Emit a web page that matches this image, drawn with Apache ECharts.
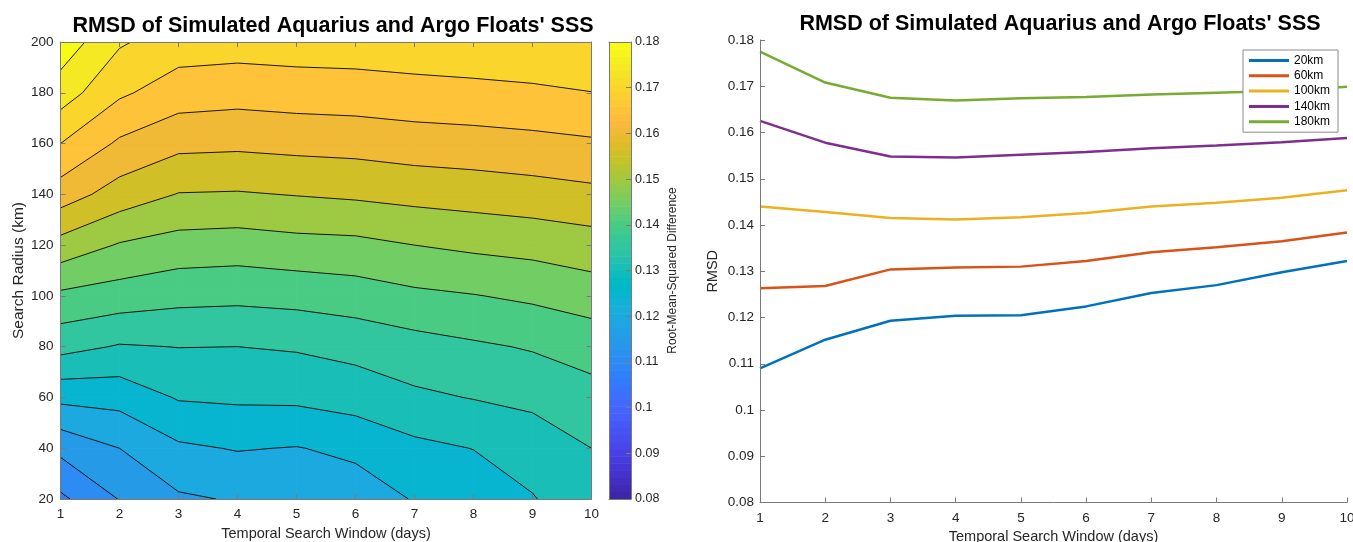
<!DOCTYPE html>
<html>
<head>
<meta charset="utf-8">
<script src="https://cdn.jsdelivr.net/npm/echarts@6/dist/echarts.min.js"></script>
<style>
html,body{margin:0;padding:0;background:#fff;}
#chart{width:1353px;height:542px;}
</style>
</head>
<body>
<div id="chart"></div>
<script>
// ---------------- data ----------------
const days = [1, 2, 3, 4, 5, 6, 7, 8, 9, 10];
const radii = [20, 40, 60, 80, 100, 120, 140, 160, 180, 200];

// RMSD for each search radius (rows) across temporal windows 1..10 days
const rmsd20  = [0.1090, 0.1152, 0.1193, 0.1204, 0.1205, 0.1224, 0.1253, 0.1270, 0.1298, 0.1322];
const rmsd40  = [0.1163, 0.1200, 0.1242, 0.1253, 0.1248, 0.1261, 0.1288, 0.1301, 0.1315, 0.1350];
const rmsd60  = [0.1263, 0.1268, 0.1304, 0.1308, 0.1310, 0.1322, 0.1341, 0.1352, 0.1365, 0.1384];
const rmsd80  = [0.1367, 0.1346, 0.1351, 0.1350, 0.1355, 0.1366, 0.1381, 0.1393, 0.1404, 0.1419];
const rmsd100 = [0.1440, 0.1428, 0.1415, 0.1412, 0.1417, 0.1426, 0.1440, 0.1448, 0.1459, 0.1475];
const rmsd120 = [0.1532, 0.1496, 0.1480, 0.1476, 0.1484, 0.1487, 0.1500, 0.1510, 0.1517, 0.1528];
const rmsd140 = [0.1625, 0.1578, 0.1548, 0.1546, 0.1552, 0.1558, 0.1566, 0.1572, 0.1579, 0.1588];
const rmsd160 = [0.1700, 0.1642, 0.1613, 0.1610, 0.1615, 0.1618, 0.1626, 0.1630, 0.1636, 0.1643];
const rmsd180 = [0.1775, 0.1708, 0.1675, 0.1669, 0.1674, 0.1677, 0.1682, 0.1686, 0.1690, 0.1699];
const rmsd200 = [0.1831, 0.1756, 0.1725, 0.1722, 0.1725, 0.1726, 0.1731, 0.1735, 0.1744, 0.1748];
const rmsdGrid = [rmsd20, rmsd40, rmsd60, rmsd80, rmsd100, rmsd120, rmsd140, rmsd160, rmsd180, rmsd200];

// right panel lines
const lineNames = ['20km', '60km', '100km', '140km', '180km'];
const lineValues = [rmsd20, rmsd60, rmsd100, rmsd140, rmsd180];

// contour levels
const contourLevels = [0.080, 0.085, 0.090, 0.095, 0.100, 0.105, 0.110, 0.115, 0.120, 0.125,
                       0.130, 0.135, 0.140, 0.145, 0.150, 0.155, 0.160, 0.165, 0.170, 0.175, 0.180];
const colorLimits = [0.08, 0.18];

// ---------------- styles ----------------
const parula = [
[0.2422,0.1504,0.6603],[0.2504,0.1650,0.7076],[0.2578,0.1818,0.7511],[0.2647,0.1978,0.7952],
[0.2706,0.2147,0.8364],[0.2751,0.2342,0.8710],[0.2783,0.2559,0.8991],[0.2803,0.2782,0.9221],
[0.2813,0.3006,0.9414],[0.2810,0.3228,0.9579],[0.2795,0.3447,0.9717],[0.2760,0.3667,0.9829],
[0.2699,0.3892,0.9906],[0.2602,0.4123,0.9952],[0.2440,0.4358,0.9988],[0.2206,0.4603,0.9973],
[0.1963,0.4847,0.9892],[0.1834,0.5074,0.9798],[0.1786,0.5289,0.9682],[0.1764,0.5499,0.9520],
[0.1687,0.5703,0.9359],[0.1540,0.5902,0.9218],[0.1460,0.6091,0.9079],[0.1380,0.6276,0.8973],
[0.1248,0.6459,0.8883],[0.1113,0.6635,0.8763],[0.0952,0.6798,0.8598],[0.0689,0.6948,0.8394],
[0.0297,0.7082,0.8163],[0.0036,0.7203,0.7917],[0.0067,0.7312,0.7660],[0.0433,0.7411,0.7394],
[0.0964,0.7500,0.7120],[0.1408,0.7584,0.6842],[0.1717,0.7670,0.6554],[0.1938,0.7758,0.6251],
[0.2161,0.7843,0.5923],[0.2470,0.7918,0.5567],[0.2906,0.7973,0.5188],[0.3406,0.8008,0.4789],
[0.3909,0.8029,0.4354],[0.4456,0.8024,0.3909],[0.5044,0.7993,0.3480],[0.5616,0.7942,0.3045],
[0.6174,0.7876,0.2612],[0.6720,0.7793,0.2227],[0.7242,0.7698,0.1910],[0.7738,0.7598,0.1646],
[0.8203,0.7498,0.1535],[0.8634,0.7406,0.1596],[0.9035,0.7330,0.1774],[0.9393,0.7288,0.2100],
[0.9728,0.7298,0.2394],[0.9956,0.7434,0.2371],[0.9970,0.7659,0.2199],[0.9952,0.7893,0.2028],
[0.9892,0.8136,0.1885],[0.9786,0.8386,0.1766],[0.9676,0.8639,0.1643],[0.9610,0.8890,0.1537],
[0.9597,0.9135,0.1423],[0.9628,0.9373,0.1265],[0.9691,0.9606,0.1064],[0.9769,0.9839,0.0805]
];
function rgb(c){return 'rgb('+Math.round(c[0]*255)+','+Math.round(c[1]*255)+','+Math.round(c[2]*255)+')';}
function colorFor(v){
  const n = parula.length;
  let idx = Math.floor((v - colorLimits[0]) / (colorLimits[1] - colorLimits[0]) * n + 1e-9);
  idx = Math.max(0, Math.min(n - 1, idx));
  return rgb(parula[idx]);
}
const lineColors = ['#0072BD', '#D95319', '#EDB120', '#7E2F8E', '#77AC30'];
const FONT = 'Liberation Sans, Arial, Helvetica, sans-serif';
const AXIS_COLOR = '#7a7a7a';
const TEXT_COLOR = '#262626';

// ---------------- contour helpers ----------------
function cellCorners(i, j){
  return [[i, j], [i + 1, j], [i + 1, j + 1], [i, j + 1]].map(function (p) {
    return [days[p[0]], radii[p[1]], rmsdGrid[p[1]][p[0]]];
  });
}
const cellData = [];
for (let j = 0; j < radii.length - 1; j++) {
  for (let i = 0; i < days.length - 1; i++) cellData.push([days[i], radii[j]]);
}

function renderBands(params, api){
  const i = days.indexOf(api.value(0)), j = radii.indexOf(api.value(1));
  const pts = cellCorners(i, j);
  const children = [];
  for (let k = 0; k < contourLevels.length; k++) {
    const lo = contourLevels[k];
    const hi = k + 1 < contourLevels.length ? contourLevels[k + 1] : Infinity;
    const poly = [];
    for (let c = 0; c < 4; c++) {
      const p = pts[c], q = pts[(c + 1) % 4];
      if (p[2] >= lo && p[2] < hi) poly.push(api.coord([p[0], p[1]]));
      const ts = [];
      [lo, hi].forEach(function (L) {
        if (isFinite(L) && ((p[2] < L) !== (q[2] < L))) ts.push((L - p[2]) / (q[2] - p[2]));
      });
      ts.sort(function (a, b) { return a - b; });
      ts.forEach(function (t) {
        poly.push(api.coord([p[0] + (q[0] - p[0]) * t, p[1] + (q[1] - p[1]) * t]));
      });
    }
    if (poly.length >= 3) {
      const col = colorFor(lo);
      children.push({type: 'polygon', shape: {points: poly},
        style: {fill: col, stroke: col, lineWidth: 0.8}});
    }
  }
  return {type: 'group', children: children};
}

function renderContourLines(params, api){
  const i = days.indexOf(api.value(0)), j = radii.indexOf(api.value(1));
  const pts = cellCorners(i, j);
  const center = (pts[0][2] + pts[1][2] + pts[2][2] + pts[3][2]) / 4;
  const children = [];
  contourLevels.forEach(function (L) {
    const cr = [];
    for (let c = 0; c < 4; c++) {
      const p = pts[c], q = pts[(c + 1) % 4];
      if ((p[2] < L) !== (q[2] < L)) {
        const t = (L - p[2]) / (q[2] - p[2]);
        cr.push(api.coord([p[0] + (q[0] - p[0]) * t, p[1] + (q[1] - p[1]) * t]));
      }
    }
    let segs = [];
    if (cr.length === 2) segs = [[cr[0], cr[1]]];
    else if (cr.length === 4) {
      const bl = pts[0][2] < L, cen = center < L;
      segs = (bl === cen) ? [[cr[0], cr[1]], [cr[2], cr[3]]] : [[cr[0], cr[3]], [cr[1], cr[2]]];
    }
    segs.forEach(function (s) {
      children.push({type: 'line', shape: {x1: s[0][0], y1: s[0][1], x2: s[1][0], y2: s[1][1]},
        style: {stroke: '#000', lineWidth: 0.9}});
    });
  });
  return {type: 'group', children: children};
}

const colorbarCells = parula.map(function (c, k) { return [0.5, k]; });
function renderColorbar(params, api){
  const k = api.value(1);
  const n = parula.length;
  const lo = colorLimits[0] + (colorLimits[1] - colorLimits[0]) * k / n;
  const hi = colorLimits[0] + (colorLimits[1] - colorLimits[0]) * (k + 1) / n;
  const a = api.coord([0, hi]), b = api.coord([1, lo]);
  return {type: 'rect', shape: {x: a[0], y: a[1], width: b[0] - a[0], height: b[1] - a[1] + 0.5},
    style: {fill: rgb(parula[k])}};
}

// ---------------- axes ----------------
function baseAxis(extra){
  return Object.assign({
    type: 'value', z: 10,
    axisLine: {show: true, onZero: false, lineStyle: {color: AXIS_COLOR, width: 1}},
    axisTick: {show: true, inside: true, length: 5, lineStyle: {color: AXIS_COLOR}},
    axisLabel: {show: true, color: TEXT_COLOR, fontFamily: FONT, fontSize: 13.5},
    splitLine: {show: false},
    nameTextStyle: {color: TEXT_COLOR, fontFamily: FONT, fontSize: 14.5}
  }, extra);
}

const option = {
  animation: false,
  backgroundColor: '#ffffff',
  title: [
    {text: "RMSD of Simulated Aquarius and Argo Floats' SSS", left: 328, top: 10, textAlign: 'center',
     textStyle: {fontFamily: FONT, fontSize: 21.5, fontWeight: 'bold', color: '#000'}},
    {text: "RMSD of Simulated Aquarius and Argo Floats' SSS", left: 1055, top: 8, textAlign: 'center',
     textStyle: {fontFamily: FONT, fontSize: 21.5, fontWeight: 'bold', color: '#000'}}
  ],
  legend: {
    data: lineNames, orient: 'vertical', left: 1243, top: 50,
    icon: 'rect', itemWidth: 40, itemHeight: 3, itemGap: 2.3,
    padding: [4, 8, 4, 6], borderColor: '#8a8a8a', borderWidth: 1, backgroundColor: '#fff',
    textStyle: {fontFamily: FONT, fontSize: 12, color: '#000', lineHeight: 13}
  },
  grid: [
    {left: 60.5, top: 42, width: 531, height: 457, outerBoundsMode: 'none', containLabel: false},
    {left: 609, top: 42, width: 22, height: 457, outerBoundsMode: 'none', containLabel: false},
    {left: 760, top: 40, width: 587, height: 462.5, outerBoundsMode: 'none', containLabel: false}
  ],
  xAxis: [
    baseAxis({gridIndex: 0, position: 'bottom', min: 1, max: 10, interval: 1,
      axisLabel: {color: TEXT_COLOR, fontFamily: FONT, fontSize: 13.5, margin: 8.5},
      name: 'Temporal Search Window (days)', nameLocation: 'middle', nameGap: 24}),
    baseAxis({gridIndex: 0, position: 'top', min: 1, max: 10, interval: 1, axisLabel: {show: false}}),
    baseAxis({gridIndex: 1, position: 'bottom', min: 0, max: 1, axisTick: {show: false}, axisLabel: {show: false}}),
    baseAxis({gridIndex: 1, position: 'top', min: 0, max: 1, axisTick: {show: false}, axisLabel: {show: false}}),
    baseAxis({gridIndex: 2, position: 'bottom', min: 1, max: 10, interval: 1,
      axisLabel: {color: TEXT_COLOR, fontFamily: FONT, fontSize: 13.5, margin: 8.5},
      name: 'Temporal Search Window (days)', nameLocation: 'middle', nameGap: 24.5})
  ],
  yAxis: [
    baseAxis({gridIndex: 0, position: 'left', min: 20, max: 200, interval: 20,
      axisLabel: {color: TEXT_COLOR, fontFamily: FONT, fontSize: 13.5, margin: 7},
      name: 'Search Radius (km)', nameLocation: 'middle', nameGap: 25, nameRotate: 90,
      nameTextStyle: {color: TEXT_COLOR, fontFamily: FONT, fontSize: 15.5}}),
    baseAxis({gridIndex: 0, position: 'right', min: 20, max: 200, interval: 20, axisLabel: {show: false}}),
    baseAxis({gridIndex: 1, position: 'right', min: 0.08, max: 0.18, interval: 0.01,
      axisLabel: {color: TEXT_COLOR, fontFamily: FONT, fontSize: 12.5, margin: 4},
      name: 'Root-Mean-Squared Difference', nameLocation: 'middle', nameGap: 36, nameRotate: 90,
      nameTextStyle: {color: TEXT_COLOR, fontFamily: FONT, fontSize: 12}}),
    baseAxis({gridIndex: 1, position: 'left', min: 0.08, max: 0.18, axisTick: {show: false}, axisLabel: {show: false}}),
    baseAxis({gridIndex: 2, position: 'left', min: 0.08, max: 0.18, interval: 0.01,
      axisLabel: {color: TEXT_COLOR, fontFamily: FONT, fontSize: 13.5, margin: 6},
      name: 'RMSD', nameLocation: 'middle', nameGap: 40, nameRotate: 90})
  ],
  series: [
    {type: 'custom', name: 'bands', xAxisIndex: 0, yAxisIndex: 0, z: 1, silent: true,
     renderItem: renderBands, data: cellData, clip: true},
    {type: 'custom', name: 'contours', xAxisIndex: 0, yAxisIndex: 0, z: 2, silent: true,
     renderItem: renderContourLines, data: cellData, clip: true},
    {type: 'custom', name: 'colorbar', xAxisIndex: 2, yAxisIndex: 2, z: 1, silent: true,
     renderItem: renderColorbar, data: colorbarCells, encode: {x: 0, y: -1}}
  ].concat(lineNames.map(function (nm, s) {
    return {type: 'line', name: nm, xAxisIndex: 4, yAxisIndex: 4, showSymbol: false, symbol: 'none',
      lineStyle: {width: 2.5, color: lineColors[s]}, itemStyle: {color: lineColors[s]},
      data: days.map(function (d, i) { return [d, lineValues[s][i]]; })};
  }))
};

const chart = echarts.init(document.getElementById('chart'), null, {renderer: 'canvas'});
chart.setOption(option);
</script>
</body>
</html>
